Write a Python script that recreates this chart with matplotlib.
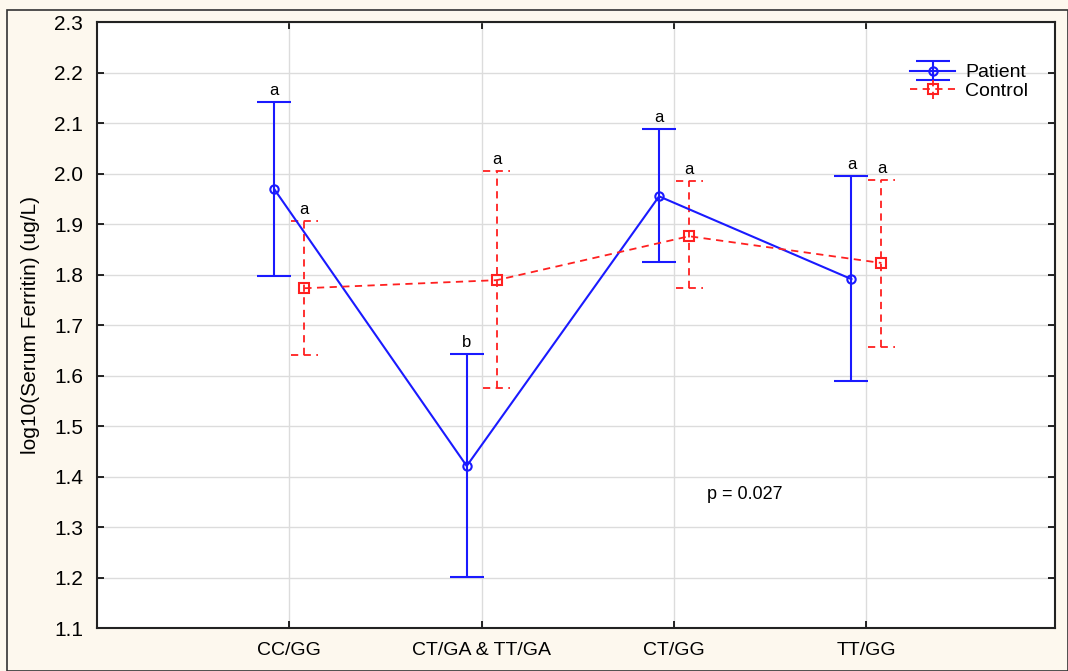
import matplotlib.pyplot as plt
from matplotlib.patches import Rectangle
import numpy as np

categories = ["CC/GG", "CT/GA & TT/GA", "CT/GG", "TT/GG"]
patient_mean = [1.969, 1.421, 1.955, 1.791]
patient_low = [1.797, 1.201, 1.825, 1.589]
patient_high = [2.142, 1.643, 2.088, 1.995]
control_mean = [1.773, 1.789, 1.876, 1.823]
control_low = [1.641, 1.575, 1.773, 1.656]
control_high = [1.906, 2.005, 1.985, 1.987]
patient_letters = ["a", "b", "a", "a"]
control_letters = ["a", "a", "a", "a"]

plt.rcParams['font.family'] = ['Liberation Sans', 'DejaVu Sans']

fig = plt.figure(figsize=(10.68, 6.71), dpi=100, facecolor='#fdf8ee')
fig.patches.append(Rectangle((0.007, 0.0), 0.993, 0.985, transform=fig.transFigure,
                             fill=False, edgecolor='#333333', linewidth=1.2))
ax = fig.add_axes([0.0908, 0.064, 0.897, 0.903])

x = np.arange(len(categories))
off = 0.078
pm = np.array(patient_mean)
cm = np.array(control_mean)
perr = [pm - np.array(patient_low), np.array(patient_high) - pm]
cerr = [cm - np.array(control_low), np.array(control_high) - cm]

ax.errorbar(x - off, pm, yerr=perr, color='#1a1aff', marker='o', markersize=6,
            markerfacecolor='none', markeredgewidth=1.5, linewidth=1.5,
            capsize=12, capthick=1.5, label='Patient', zorder=3)
ctrl = ax.errorbar(x + off, cm, yerr=cerr, color='#ff2020', marker='s', markersize=7,
                   markerfacecolor='none', markeredgewidth=1.5, linewidth=1.3,
                   linestyle='--', dashes=(4, 3), capsize=12, capthick=1.3,
                   label='Control', zorder=3)
for bar in ctrl[2]:
    bar.set_linestyle((0, (4, 3)))
for cap in ctrl[1]:
    cap.set_alpha(0)

# dashed caps for the control whiskers
for xi, lo, hi in zip(x + off, control_low, control_high):
    for yv in (lo, hi):
        ax.plot([xi - 0.07, xi + 0.07], [yv, yv], color='#ff2020', linewidth=1.3,
                linestyle=(0, (4, 3)), zorder=3)

for xi, hi, t in zip(x - off, patient_high, patient_letters):
    ax.text(xi, hi + 0.008, t, ha='center', va='bottom', fontsize=12)
for xi, hi, t in zip(x + off, control_high, control_letters):
    ax.text(xi, hi + 0.008, t, ha='center', va='bottom', fontsize=12)

ax.text(2.17, 1.355, "p = 0.027", fontsize=13)

ax.set_xlim(-1, 3.98)
ax.set_ylim(1.1, 2.3)
ax.set_xticks(x)
ax.set_xticklabels(categories, fontsize=14)
ax.set_yticks(np.arange(1.1, 2.31, 0.1))
ax.set_yticklabels([f"{v:.1f}" for v in np.arange(1.1, 2.31, 0.1)], fontsize=15)
ax.tick_params(direction='in', top=True, right=True, length=5, width=1.2)
ax.tick_params(axis='y', pad=10)
ax.tick_params(axis='x', pad=10)
ax.set_ylabel("log10(Serum Ferritin) (ug/L)", fontsize=15, labelpad=10)
ax.grid(color='#dcdcdc', linewidth=1)
ax.set_axisbelow(True)
for s in ax.spines.values():
    s.set_linewidth(1.5)
    s.set_color('#222222')

ax.legend(loc='upper right', bbox_to_anchor=(0.99, 0.96), frameon=False,
          fontsize=14, handlelength=2.3, handletextpad=0.5, labelspacing=0.05)

plt.savefig('out.png', dpi=100, facecolor=fig.get_facecolor())
